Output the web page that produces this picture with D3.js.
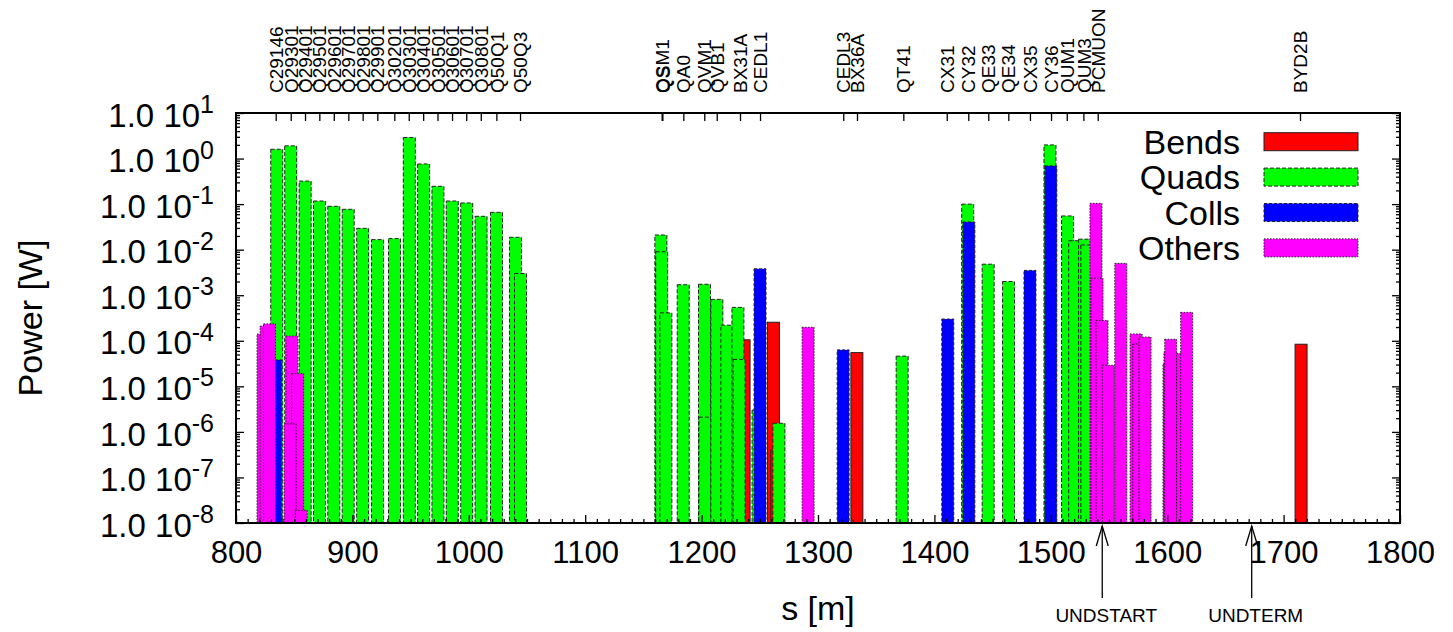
<!DOCTYPE html>
<html>
<head>
<meta charset="utf-8">
<script src="https://cdn.jsdelivr.net/npm/d3@7"></script>
<style>
body { margin: 0; background: #fff; }
text { font-family: "Liberation Sans", Arial, Helvetica, sans-serif; fill: #000; }
</style>
</head>
<body>
<div id="chart"></div>
<script>
// element positions s [m] and beam loss power [W]
var bendS = [1236.5, 1261.7, 1264.6, 1333.4, 1715.0];
var bendP = [1.05e-4, 2.55e-4, 4e-7, 5.5e-5, 8.4e-5];

var quadS = [835.0, 847.0, 859.4, 871.7, 884.0, 896.4, 908.8, 921.6, 936.2, 948.9,
    961.2, 973.5, 985.8, 998.2, 1010.5, 1023.8, 1040.1, 1044.4,
    1165.0, 1165.7, 1169.3, 1184.2, 1202.5, 1202.8, 1213.1, 1221.7, 1231.2, 1232.2,
    1248.5, 1266.4, 1372.3, 1428.6, 1446.2, 1463.7, 1499.3, 1514.4, 1520.5, 1529.0, 1531.0];
var quadP = [1.6, 1.9, 0.32, 0.117, 0.0895, 0.0769, 0.0294, 0.0166, 0.0175, 2.9,
    0.76, 0.246, 0.117, 0.106, 0.054, 0.066, 0.0187, 0.003,
    0.021, 0.009, 4.1e-4, 1.7e-3, 1.74e-3, 2.1e-6, 8.1e-4, 2.2e-4, 5.4e-4, 3.9e-5,
    3e-6, 1.55e-6, 4.6e-5, 0.1, 4.8e-3, 2.0e-3, 1.99, 0.055, 0.0157, 0.017, 0.0127];

var collS = [834.1, 1250.2, 1321.6, 1411.5, 1429.6, 1482.1, 1500.0];
var collP = [3.8e-5, 3.8e-3, 6.3e-5, 3.0e-4, 0.0405, 3.5e-3, 0.69];

var otherS = [823.2, 825.9, 828.8, 848.0, 853.0, 846.5, 856.0, 1291.5,
    1538.8, 1539.7, 1544.0, 1549.4, 1560.1, 1573.3, 1575.6, 1580.9,
    1601.5, 1602.3, 1603.0, 1613.2, 1616.7];
var otherP = [1.4e-4, 2.1e-4, 2.35e-4, 1.27e-4, 1.9e-5, 1.5e-6, 1.9e-8, 1.98e-4,
    0.104, 2.36e-3, 2.8e-4, 2.9e-5, 5.0e-3, 1.41e-4, 8.5e-5, 1.21e-4,
    3.0e-5, 5.7e-5, 1.08e-4, 5.3e-5, 4.2e-4];

// element names along the top axis
var elemNames = ["C29146", "Q29301", "Q29401", "Q29501", "Q29601", "Q29701", "Q29801", "Q29901",
    "Q30201", "Q30301", "Q30401", "Q30501", "Q30601", "Q30701", "Q30801", "Q50Q1", "Q50Q3",
    "QSM1", "QS", "QA0", "QVM1", "QVB1", "BX31A", "CEDL1", "CEDL3", "BX36A", "QT41",
    "CX31", "CY32", "QE33", "QE34", "CX35", "CY36", "QUM1", "QUM3", "PCMUON", "BYD2B"];
var elemS = [834.1, 847.0, 859.3, 871.6, 884.0, 896.5, 908.8, 921.4,
    936.0, 948.4, 960.8, 973.1, 985.6, 997.8, 1010.3, 1023.7, 1044.0,
    1165.7, 1166.3, 1184.3, 1202.3, 1213.0, 1233.0, 1250.2, 1321.7, 1333.5, 1373.3,
    1410.6, 1429.1, 1446.3, 1463.5, 1482.1, 1500.2, 1513.7, 1528.0, 1540.3, 1714.1];

var markerNames = ["UNDSTART", "UNDTERM"];
var markerS = [1544.2, 1672.6];

var xTicks = [800, 900, 1000, 1100, 1200, 1300, 1400, 1500, 1600, 1700, 1800];
var yExps = [1, 0, -1, -2, -3, -4, -5, -6, -7, -8];

var seriesNames = ["Bends", "Quads", "Colls", "Others"];
var seriesColors = ["#ff0000", "#00ff00", "#0000ff", "#ff00ff"];
var seriesDash = [null, "4,2", "3,2", "1.5,1.5"];

var W = 1453, H = 632;
var pL = 236, pR = 1400, pT = 113, pB = 523;
var boxW = 10.3;

var svg = d3.select("#chart").append("svg")
    .attr("width", W)
    .attr("height", H);

svg.append("rect").attr("width", W).attr("height", H).attr("fill", "#fff");

var x = d3.scaleLinear().domain([800, 1800]).range([pL, pR]);
var y = d3.scaleLog().domain([1e-8, 10]).range([pB, pT]);

// bars, drawn in gnuplot order so later series sit on top
var series = [[bendS, bendP], [quadS, quadP], [collS, collP], [otherS, otherP]];
series.forEach(function (ser, k) {
    var rows = ser[0].map(function (s, i) { return {s: s, p: ser[1][i]}; });
    svg.append("g").selectAll("rect")
        .data(rows)
        .enter().append("rect")
        .attr("x", function (d) { return x(d.s - boxW / 2); })
        .attr("width", function (d) { return x(d.s + boxW / 2) - x(d.s - boxW / 2); })
        .attr("y", function (d) { return y(d.p); })
        .attr("height", function (d) { return y(1e-8) - y(d.p); })
        .attr("fill", seriesColors[k])
        .attr("stroke", "#222")
        .attr("stroke-width", 1)
        .attr("stroke-dasharray", seriesDash[k]);
});

// bottom axis
var xMinor = d3.range(800, 1801, 10).filter(function (v) { return v % 100 !== 0; });
svg.append("g")
    .attr("transform", "translate(0," + pB + ")")
    .call(d3.axisBottom(x).tickValues(xMinor).tickSize(-4).tickSizeOuter(0).tickFormat(""));
var gx = svg.append("g")
    .attr("transform", "translate(0," + pB + ")")
    .call(d3.axisBottom(x).tickValues(xTicks).tickSize(-8).tickSizeOuter(0).tickPadding(18).tickFormat(d3.format("d")));
gx.selectAll("text").style("font-size", "31px");

// top axis with element names
var gt = svg.append("g")
    .attr("transform", "translate(0," + pT + ")")
    .call(d3.axisTop(x).tickValues(elemS).tickSize(-8).tickSizeOuter(0)
        .tickFormat(function (d, i) { return elemNames[i]; }));
gt.selectAll("text")
    .attr("transform", "rotate(-90)")
    .attr("x", 20)
    .attr("y", 0)
    .attr("dy", "0.35em")
    .attr("text-anchor", "start")
    .style("font-size", "19px");

// left axis, log scale
var yMajor = yExps.map(function (e) { return Math.pow(10, e); });
var yMinor = [];
d3.range(-8, 1).forEach(function (e) {
    d3.range(2, 10).forEach(function (m) { yMinor.push(m * Math.pow(10, e)); });
});
svg.append("g")
    .attr("transform", "translate(" + pL + ",0)")
    .call(d3.axisLeft(y).tickValues(yMinor).tickSize(-4).tickSizeOuter(0).tickFormat(""));
svg.append("g")
    .attr("transform", "translate(" + pR + ",0)")
    .call(d3.axisRight(y).tickValues(yMinor).tickSize(-4).tickSizeOuter(0).tickFormat(""));
svg.append("g")
    .attr("transform", "translate(" + pR + ",0)")
    .call(d3.axisRight(y).tickValues(yMajor).tickSize(-8).tickSizeOuter(0).tickFormat(""));
var gy = svg.append("g")
    .attr("transform", "translate(" + pL + ",0)")
    .call(d3.axisLeft(y).tickValues(yMajor).tickSize(-8).tickSizeOuter(0).tickPadding(22).tickFormat(""));
gy.selectAll(".tick text")
    .style("font-size", "33px")
    .attr("dy", "0.4em")
    .each(function (d, i) {
        var t = d3.select(this);
        t.append("tspan").text("1.0 10");
        t.append("tspan").attr("dy", "-0.55em").style("font-size", "25px").text(yExps[i]);
    });

svg.selectAll(".domain").attr("stroke", "none");
svg.selectAll(".tick line").attr("stroke", "#000").attr("stroke-width", 1.3);

// frame
svg.append("rect")
    .attr("x", pL).attr("y", pT)
    .attr("width", pR - pL).attr("height", pB - pT)
    .attr("fill", "none").attr("stroke", "#000").attr("stroke-width", 2);

// axis titles
svg.append("text")
    .attr("x", (pL + pR) / 2).attr("y", 620)
    .attr("text-anchor", "middle")
    .style("font-size", "34px")
    .text("s [m]");
svg.append("text")
    .attr("transform", "translate(42," + (pT + pB) / 2 + ") rotate(-90)")
    .attr("text-anchor", "middle")
    .style("font-size", "34px")
    .text("Power [W]");

// undulator markers below the axis
markerS.forEach(function (s, i) {
    var mx = x(s);
    svg.append("line")
        .attr("x1", mx).attr("x2", mx).attr("y1", 598).attr("y2", 526)
        .attr("stroke", "#000").attr("stroke-width", 1.3);
    svg.append("path")
        .attr("d", "M" + (mx - 6) + ",546L" + mx + ",526L" + (mx + 6) + ",546")
        .attr("fill", "none").attr("stroke", "#000").attr("stroke-width", 1.3);
    svg.append("text")
        .attr("x", mx + 4).attr("y", 622)
        .attr("text-anchor", "middle")
        .style("font-size", "19px")
        .text(markerNames[i]);
});

// legend
var lg = svg.append("g");
seriesNames.forEach(function (name, k) {
    var cy = 141.7 + k * 35.4;
    lg.append("text")
        .attr("x", 1240).attr("y", cy).attr("dy", "0.36em")
        .attr("text-anchor", "end")
        .style("font-size", "34px")
        .text(name);
    lg.append("rect")
        .attr("x", 1264).attr("y", cy - 9)
        .attr("width", 94).attr("height", 18)
        .attr("fill", seriesColors[k])
        .attr("stroke", "#222").attr("stroke-width", 1)
        .attr("stroke-dasharray", seriesDash[k]);
});
</script>
</body>
</html>
